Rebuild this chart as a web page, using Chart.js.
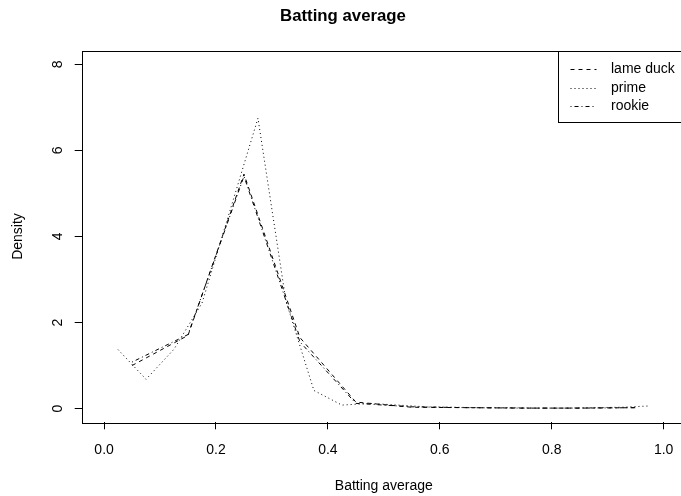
<!DOCTYPE html>
<html>
<head>
<meta charset="utf-8">
<script src="https://cdn.jsdelivr.net/npm/chart.js@4/dist/chart.umd.min.js"></script>
<style>
  html, body { margin: 0; padding: 0; overflow: hidden; background: #fff; }
  #wrap { width: 700px; height: 496px; }
</style>
</head>
<body>
<div id="wrap"><canvas id="chart" width="700" height="496"></canvas></div>
<script>
// bin midpoints and density values
const lameDuckX = [0.05, 0.15, 0.25, 0.35, 0.45, 0.55, 0.65, 0.75, 0.85, 0.95];
const lameDuckY = [1.0, 1.7, 5.45, 1.65, 0.15, 0.03, 0.02, 0.01, 0.01, 0.02];

const primeX = [0.025, 0.075, 0.125, 0.175, 0.225, 0.275, 0.325, 0.375, 0.425, 0.475,
                0.525, 0.575, 0.625, 0.675, 0.725, 0.775, 0.825, 0.875, 0.925, 0.975];
const primeY = [1.37, 0.68, 1.38, 2.45, 4.6, 6.75, 2.5, 0.42, 0.08, 0.12,
                0.08, 0.04, 0.03, 0.02, 0.02, 0.01, 0.01, 0.02, 0.03, 0.06];

const rookieX = [0.05, 0.15, 0.25, 0.35, 0.45, 0.55, 0.65, 0.75, 0.85, 0.95];
const rookieY = [1.08, 1.72, 5.4, 1.55, 0.12, 0.04, 0.02, 0.01, 0.01, 0.02];

const xTicks = [0, 0.2, 0.4, 0.6, 0.8, 1.0];
const yTicks = [0, 2, 4, 6, 8];

const FONT = "'Liberation Sans', Arial, Helvetica, sans-serif";
Chart.defaults.font.family = FONT;
Chart.defaults.font.size = 14;
Chart.defaults.color = '#000';

function pts(xs, ys) {
    return xs.map((x, i) => ({ x: x, y: ys[i] }));
}

function series(label, xs, ys, dash) {
    return {
        label: label,
        data: pts(xs, ys),
        borderDash: dash,
        borderColor: '#000',
        backgroundColor: '#000',
        borderWidth: 1,
        pointRadius: 0,
        tension: 0,
        fill: false
    };
}

// R style box around the plot + legend in the top right corner
const rBox = {
    id: 'rBox',
    afterDraw(chart) {
        const ctx = chart.ctx;
        const a = chart.chartArea;
        ctx.save();
        ctx.strokeStyle = '#000';
        ctx.lineWidth = 1;
        ctx.setLineDash([]);
        ctx.strokeRect(Math.round(a.left) + 0.5, Math.round(a.top) + 0.5,
                       Math.round(a.right - a.left), Math.round(a.bottom - a.top));

        // legend
        const left = a.right - 128;
        const top = a.top;
        ctx.fillStyle = '#fff';
        ctx.fillRect(Math.round(left) + 0.5, Math.round(top) + 0.5, 128, 71);
        ctx.strokeRect(Math.round(left) + 0.5, Math.round(top) + 0.5, 128, 71);
        ctx.font = '14px ' + FONT;
        ctx.textBaseline = 'middle';
        ctx.fillStyle = '#000';
        chart.data.datasets.forEach((ds, i) => {
            const y = Math.round(top + 18.5 + i * 18.5) + 0.5;
            ctx.beginPath();
            ctx.setLineDash(ds.borderDash);
            ctx.moveTo(left + 12.5, y);
            ctx.lineTo(left + 38.5, y);
            ctx.stroke();
            ctx.fillText(ds.label, left + 53, y);
        });
        ctx.restore();
    }
};

new Chart(document.getElementById('chart'), {
    type: 'line',
    data: {
        datasets: [
            series('lame duck', lameDuckX, lameDuckY, [4, 4]),
            series('prime', primeX, primeY, [1, 3]),
            series('rookie', rookieX, rookieY, [1, 3, 4, 3])
        ]
    },
    options: {
        responsive: false,
        animation: false,
        layout: { padding: { left: 0, top: 0, right: 14, bottom: 0 } },
        plugins: {
            colors: { enabled: false },
            legend: { display: false },
            tooltip: { enabled: false },
            title: {
                display: true,
                text: 'Batting average',
                font: { size: 16.8, weight: 'bold' },
                color: '#000',
                padding: { top: 5.9, bottom: 24.6 }
            }
        },
        scales: {
            x: {
                type: 'linear',
                min: -0.04,
                max: 1.04,
                afterBuildTicks: s => { s.ticks = xTicks.map(v => ({ value: v })); },
                afterFit: s => { s.height = 73.7; },
                grid: { drawOnChartArea: false, tickLength: 7, color: '#000', lineWidth: 1 },
                border: { display: false },
                ticks: { padding: 12, maxRotation: 0, autoSkip: false, callback: v => v.toFixed(1) },
                title: { display: true, text: 'Batting average', padding: { top: 0, bottom: 1.6 } }
            },
            y: {
                min: -0.32,
                max: 8.32,
                afterBuildTicks: s => { s.ticks = yTicks.map(v => ({ value: v })); },
                afterFit: s => { s.width = 81.7; },
                grid: { drawOnChartArea: false, tickLength: 7, color: '#000', lineWidth: 1 },
                border: { display: false },
                ticks: { padding: 13, minRotation: 90, maxRotation: 90, crossAlign: 'center', autoSkip: false },
                title: { display: true, text: 'Density', padding: { top: 9.6, bottom: 0 } }
            }
        }
    },
    plugins: [rBox]
});
</script>
</body>
</html>
